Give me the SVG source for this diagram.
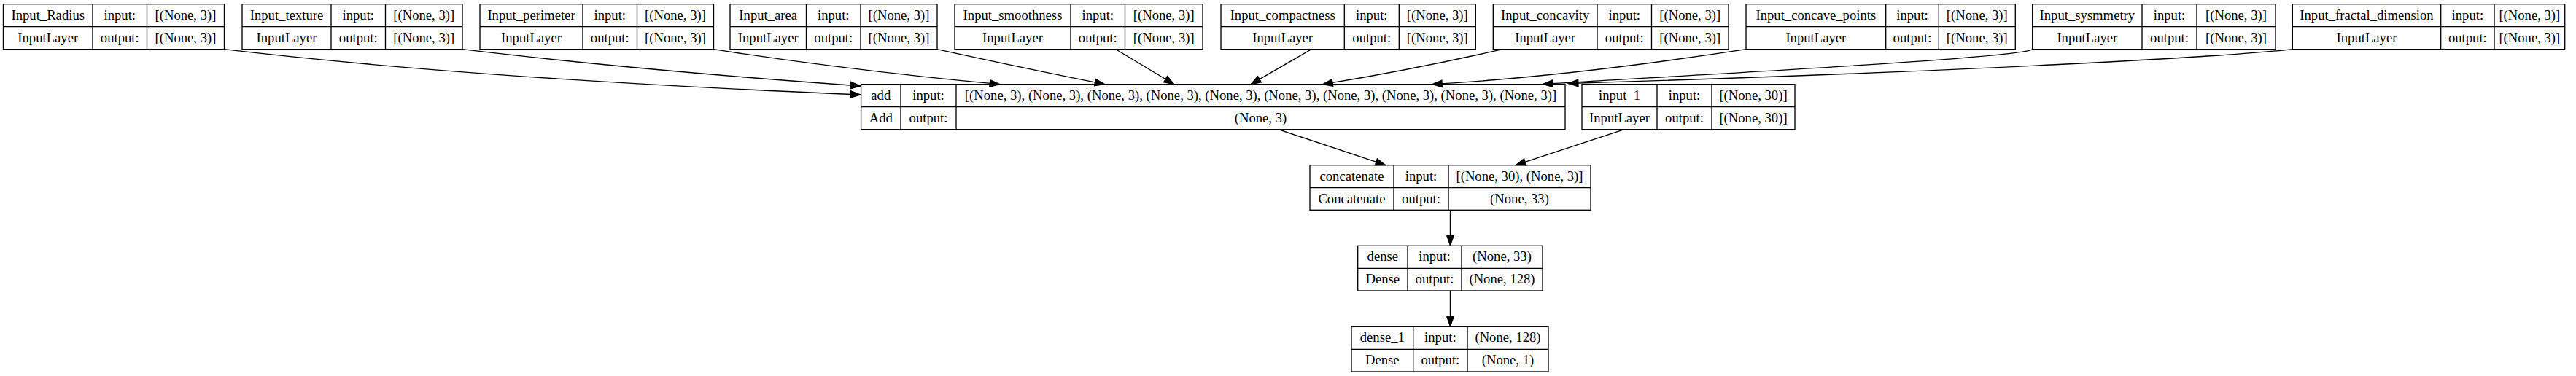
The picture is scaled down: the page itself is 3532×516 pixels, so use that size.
<svg xmlns="http://www.w3.org/2000/svg" width="3532" height="516" viewBox="0 0 3532 516">
<style>
.box{fill:#fff;stroke:#000;stroke-width:1.33}
.ln{stroke:#000;stroke-width:1.33;fill:none}
text{font-family:"Liberation Serif","Times New Roman",serif;font-size:18.67px;text-anchor:middle;fill:#000}
.edge{stroke:#000;stroke-width:1.33;fill:none;marker-end:url(#arr)}
</style>
<defs>
<marker id="arr" markerUnits="userSpaceOnUse" markerWidth="16" markerHeight="12" viewBox="-1 -1 16 12" refX="14" refY="5" orient="auto">
<path d="M0,0 L14,5 L0,10 z" fill="#000" stroke="#000" stroke-width="1"/>
</marker>
</defs>
<rect width="3532" height="516" fill="#fff"/>

<g id="Input_Radius">
<rect class="box" x="4.5" y="5.7" width="303" height="62"/>
<path class="ln" d="M4.5,36.7H307.5M127,5.7V67.7M201.5,5.7V67.7"/>
<text x="65.75" y="26.7">Input_Radius</text><text x="164.25" y="26.7">input:</text><text x="254.5" y="26.7">[(None, 3)]</text>
<text x="65.75" y="57.7">InputLayer</text><text x="164.25" y="57.7">output:</text><text x="254.5" y="57.7">[(None, 3)]</text>
</g>
<g id="Input_texture">
<rect class="box" x="332" y="5.7" width="302" height="62"/>
<path class="ln" d="M332,36.7H634M454,5.7V67.7M528.5,5.7V67.7"/>
<text x="393" y="26.7">Input_texture</text><text x="491.25" y="26.7">input:</text><text x="581.25" y="26.7">[(None, 3)]</text>
<text x="393" y="57.7">InputLayer</text><text x="491.25" y="57.7">output:</text><text x="581.25" y="57.7">[(None, 3)]</text>
</g>
<g id="Input_perimeter">
<rect class="box" x="658" y="5.7" width="320.5" height="62"/>
<path class="ln" d="M658,36.7H978.5M799,5.7V67.7M873.5,5.7V67.7"/>
<text x="728.5" y="26.7">Input_perimeter</text><text x="836.25" y="26.7">input:</text><text x="926" y="26.7">[(None, 3)]</text>
<text x="728.5" y="57.7">InputLayer</text><text x="836.25" y="57.7">output:</text><text x="926" y="57.7">[(None, 3)]</text>
</g>
<g id="Input_area">
<rect class="box" x="1001" y="5.7" width="284" height="62"/>
<path class="ln" d="M1001,36.7H1285M1105.5,5.7V67.7M1180,5.7V67.7"/>
<text x="1053.25" y="26.7">Input_area</text><text x="1142.75" y="26.7">input:</text><text x="1232.5" y="26.7">[(None, 3)]</text>
<text x="1053.25" y="57.7">InputLayer</text><text x="1142.75" y="57.7">output:</text><text x="1232.5" y="57.7">[(None, 3)]</text>
</g>
<g id="Input_smoothness">
<rect class="box" x="1309" y="5.7" width="340" height="62"/>
<path class="ln" d="M1309,36.7H1649M1468,5.7V67.7M1542.5,5.7V67.7"/>
<text x="1388.5" y="26.7">Input_smoothness</text><text x="1505.25" y="26.7">input:</text><text x="1595.75" y="26.7">[(None, 3)]</text>
<text x="1388.5" y="57.7">InputLayer</text><text x="1505.25" y="57.7">output:</text><text x="1595.75" y="57.7">[(None, 3)]</text>
</g>
<g id="Input_compactness">
<rect class="box" x="1674" y="5.7" width="349.3" height="62"/>
<path class="ln" d="M1674,36.7H2023.3M1843.3,5.7V67.7M1918.3,5.7V67.7"/>
<text x="1758.65" y="26.7">Input_compactness</text><text x="1880.8" y="26.7">input:</text><text x="1970.8" y="26.7">[(None, 3)]</text>
<text x="1758.65" y="57.7">InputLayer</text><text x="1880.8" y="57.7">output:</text><text x="1970.8" y="57.7">[(None, 3)]</text>
</g>
<g id="Input_concavity">
<rect class="box" x="2047.3" y="5.7" width="322.7" height="62"/>
<path class="ln" d="M2047.3,36.7H2370M2190,5.7V67.7M2264.5,5.7V67.7"/>
<text x="2118.65" y="26.7">Input_concavity</text><text x="2227.25" y="26.7">input:</text><text x="2317.25" y="26.7">[(None, 3)]</text>
<text x="2118.65" y="57.7">InputLayer</text><text x="2227.25" y="57.7">output:</text><text x="2317.25" y="57.7">[(None, 3)]</text>
</g>
<g id="Input_concave_points">
<rect class="box" x="2394" y="5.7" width="369.3" height="62"/>
<path class="ln" d="M2394,36.7H2763.3M2585.7,5.7V67.7M2658.3,5.7V67.7"/>
<text x="2489.85" y="26.7">Input_concave_points</text><text x="2622" y="26.7">input:</text><text x="2710.8" y="26.7">[(None, 3)]</text>
<text x="2489.85" y="57.7">InputLayer</text><text x="2622" y="57.7">output:</text><text x="2710.8" y="57.7">[(None, 3)]</text>
</g>
<g id="Input_sysmmetry">
<rect class="box" x="2786.7" y="5.7" width="333.3" height="62"/>
<path class="ln" d="M2786.7,36.7H3120M2937,5.7V67.7M3012,5.7V67.7"/>
<text x="2861.85" y="26.7">Input_sysmmetry</text><text x="2974.5" y="26.7">input:</text><text x="3066" y="26.7">[(None, 3)]</text>
<text x="2861.85" y="57.7">InputLayer</text><text x="2974.5" y="57.7">output:</text><text x="3066" y="57.7">[(None, 3)]</text>
</g>
<g id="Input_fractal_dimension">
<rect class="box" x="3143.3" y="5.7" width="373.4" height="62"/>
<path class="ln" d="M3143.3,36.7H3516.7M3346.7,5.7V67.7M3420,5.7V67.7"/>
<text x="3245" y="26.7">Input_fractal_dimension</text><text x="3383.35" y="26.7">input:</text><text x="3468.35" y="26.7">[(None, 3)]</text>
<text x="3245" y="57.7">InputLayer</text><text x="3383.35" y="57.7">output:</text><text x="3468.35" y="57.7">[(None, 3)]</text>
</g>

<g id="add">
<rect class="box" x="1180.6" y="115.7" width="965.4" height="62"/>
<path class="ln" d="M1180.6,146.7H2146M1235,115.7V177.7M1311,115.7V177.7"/>
<text x="1207.8" y="136.7">add</text><text x="1273" y="136.7">input:</text><text x="1728.5" y="136.7">[(None, 3), (None, 3), (None, 3), (None, 3), (None, 3), (None, 3), (None, 3), (None, 3), (None, 3), (None, 3)]</text>
<text x="1207.8" y="167.7">Add</text><text x="1273" y="167.7">output:</text><text x="1728.5" y="167.7">(None, 3)</text>
</g>
<g id="input_1">
<rect class="box" x="2169" y="115.7" width="292" height="62"/>
<path class="ln" d="M2169,146.7H2461M2272,115.7V177.7M2347,115.7V177.7"/>
<text x="2220.5" y="136.7">input_1</text><text x="2309.5" y="136.7">input:</text><text x="2404" y="136.7">[(None, 30)]</text>
<text x="2220.5" y="167.7">InputLayer</text><text x="2309.5" y="167.7">output:</text><text x="2404" y="167.7">[(None, 30)]</text>
</g>
<g id="concatenate">
<rect class="box" x="1796" y="226.7" width="385" height="61.6"/>
<path class="ln" d="M1796,257.7H2181M1911,226.7V288.3M1986,226.7V288.3"/>
<text x="1853.5" y="247.7">concatenate</text><text x="1948.5" y="247.7">input:</text><text x="2083.5" y="247.7">[(None, 30), (None, 3)]</text>
<text x="1853.5" y="278.7">Concatenate</text><text x="1948.5" y="278.7">output:</text><text x="2083.5" y="278.7">(None, 33)</text>
</g>
<g id="dense">
<rect class="box" x="1861.7" y="337.3" width="253.3" height="61.7"/>
<path class="ln" d="M1861.7,368.3H2115M1930,337.3V399M2004,337.3V399"/>
<text x="1895.85" y="358.3">dense</text><text x="1967" y="358.3">input:</text><text x="2059.5" y="358.3">(None, 33)</text>
<text x="1895.85" y="389.3">Dense</text><text x="1967" y="389.3">output:</text><text x="2059.5" y="389.3">(None, 128)</text>
</g>
<g id="dense_1">
<rect class="box" x="1853" y="448.3" width="270" height="61.7"/>
<path class="ln" d="M1853,479.3H2123M1937.7,448.3V510M2012,448.3V510"/>
<text x="1895.35" y="469.3">dense_1</text><text x="1974.85" y="469.3">input:</text><text x="2067.5" y="469.3">(None, 128)</text>
<text x="1895.35" y="500.3">Dense</text><text x="1974.85" y="500.3">output:</text><text x="2067.5" y="500.3">(None, 1)</text>
</g>

<g id="connectors">
<path class="edge" d="M307.5,67.7 Q650,108 1180,130"/>
<path class="edge" d="M634,67.7 Q870,96 1180,118"/>
<path class="edge" d="M978.5,67.7 Q1160,96 1371,115.7"/>
<path class="edge" d="M1285,67.7 Q1410,95 1515,115.7"/>
<path class="edge" d="M1530,67.7 L1610,115.7"/>
<path class="edge" d="M1798,67.7 L1715,115.7"/>
<path class="edge" d="M2060,67.7 Q1930,97 1813.3,115.7"/>
<path class="edge" d="M2394,67.7 Q2150,105 1963.3,115.7"/>
<path class="edge" d="M2786.7,67.7 C2770,80 2300,104 2115,115.5"/>
<path class="edge" d="M3143.3,67.7 C3050,78 2700,98 2150,114.5"/>
<path class="edge" d="M1753,177.7 L1900,226.7"/>
<path class="edge" d="M2227,177.7 L2078,226.7"/>
<path class="edge" d="M1988.5,288.3 L1988.5,337.3"/>
<path class="edge" d="M1988.5,399 L1988.5,448.3"/>
</g>
</svg>
